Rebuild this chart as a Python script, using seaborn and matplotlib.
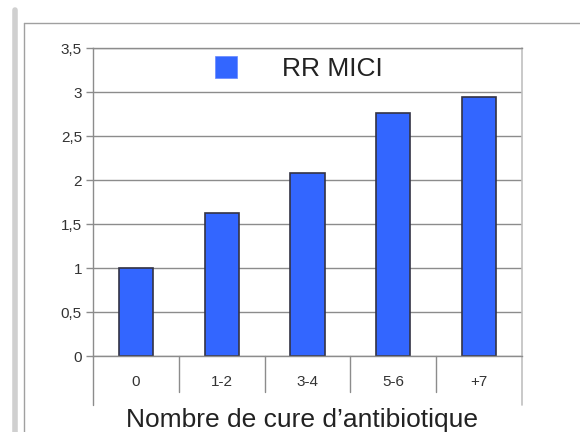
import numpy as np
import pandas as pd
import seaborn as sns
import matplotlib.pyplot as plt
from matplotlib.lines import Line2D
from matplotlib.ticker import FuncFormatter

# data
categories = ["0", "1-2", "3-4", "5-6", "+7"]
rr_mici = [1.0, 1.63, 2.08, 2.76, 2.94]
series_name = "RR MICI"
y_ticks = [0, 0.5, 1, 1.5, 2, 2.5, 3, 3.5]

df = pd.DataFrame({"cure": categories, "rr": rr_mici})

sns.set_theme(style="white")
plt.rcParams["font.family"] = ["Liberation Sans", "DejaVu Sans"]

fig = plt.figure(figsize=(5.8, 4.32), dpi=100)
fig.patch.set_facecolor("white")
ax = fig.add_axes([93 / 580, 1 - 356 / 432, 429 / 580, 308 / 432])

sns.barplot(data=df, x="cure", y="rr", color="#3366ff", saturation=1,
            width=0.4, edgecolor="#333344", linewidth=1.2, label=series_name, ax=ax)

n = len(categories)
ax.set_ylim(0, 3.5)
ax.set_yticks(y_ticks)
ax.yaxis.set_major_formatter(FuncFormatter(lambda v, p: f"{v:g}".replace(".", ",")))
ax.yaxis.grid(True, color="#8c8c8c", lw=1)
ax.set_axisbelow(True)
ax.tick_params(axis="y", length=5, width=1, color="#8c8c8c", labelsize=11,
               labelcolor="#333333", pad=3, left=True)
ax.tick_params(axis="x", length=0, pad=14, labelsize=11, labelcolor="#333333")
ax.set_xlabel("")
ax.set_ylabel("")

for side in ["left", "bottom", "top"]:
    ax.spines[side].set_color("#8c8c8c")
    ax.spines[side].set_linewidth(1)
ax.spines["right"].set_visible(False)

# category table lines under the axis
low = -(405 - 356) / 308
mid = -(392 - 356) / 308
trans = ax.get_xaxis_transform()
ax.plot([-0.5, -0.5], [0, low], transform=trans, color="#8c8c8c", lw=1, clip_on=False)
ax.plot([n - 0.5, n - 0.5], [1, low], transform=trans, color="#c0c0c0", lw=1.2, clip_on=False)
for i in range(n - 1):
    ax.plot([i + 0.5, i + 0.5], [0, mid], transform=trans, color="#8c8c8c", lw=1, clip_on=False)
ax.set_xlim(-0.5, n - 0.5)

leg = ax.legend(loc="center", bbox_to_anchor=(0.48, 0.932), frameon=False, fontsize=19,
                handlelength=0.85, handleheight=0.9, handletextpad=1.7)
for t in leg.get_texts():
    t.set_color("#222222")
for h in leg.legend_handles:
    h.set_edgecolor("#6688ff")
    h.set_linewidth(0.5)

fig.text(302 / 580, 1 - 420 / 432, "Nombre de cure d\u2019antibiotique", ha="center",
         va="center", fontsize=19, color="#222222")

# screenshot frame lines
fig.add_artist(Line2D([15 / 580, 15 / 580], [0, 1 - 10 / 432], color="#d0d0d0", lw=4))
fig.add_artist(Line2D([24 / 580, 24 / 580], [0, 1 - 23 / 432], color="#a0a0a0", lw=1))
fig.add_artist(Line2D([24 / 580, 1], [1 - 23 / 432, 1 - 23 / 432], color="#a0a0a0", lw=1))

fig.savefig("out.png", dpi=100)
